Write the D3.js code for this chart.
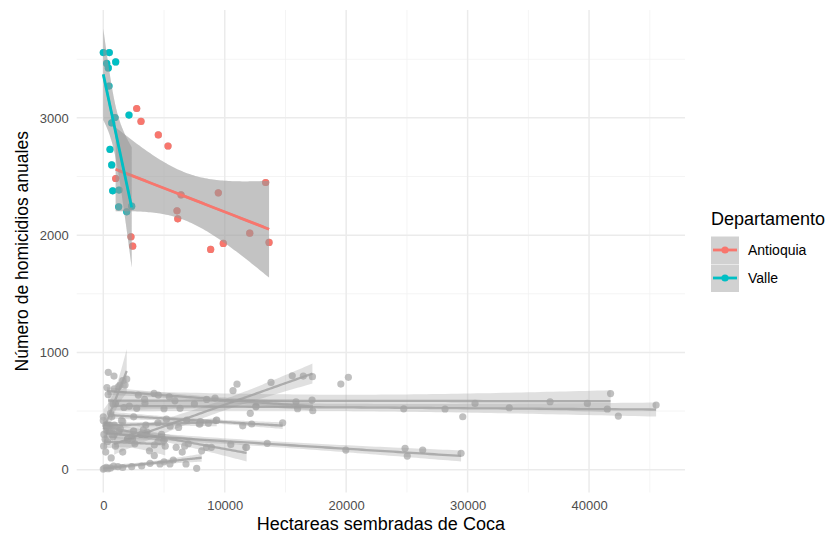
<!DOCTYPE html>
<html>
<head>
<meta charset="utf-8">
<script src="https://cdnjs.cloudflare.com/ajax/libs/d3/7.8.5/d3.min.js"></script>
<style>
  body { margin: 0; background: #fff; }
  text { font-family: "Liberation Sans", Arial, Helvetica, sans-serif; }
</style>
</head>
<body>
<div id="wrapper"></div>
<script>
// Highlighted departamentos
var antioquiaX = [1020, 2280, 2420, 2750, 3105, 4530, 5330, 6070, 6130, 6400, 8840, 9470, 9880, 12060, 13370, 13650];
var antioquiaY = [2483, 1986, 1906, 3080, 2970, 2855, 2760, 2207, 2139, 2344, 1878, 2361, 1929, 2017, 2449, 1938];
var valleX = [0, 494, 1021, 280, 412, 470, 2116, 964, 692, 552, 692, 774, 1293, 1268, 1927, 2339];
var valleY = [3557, 3557, 3477, 3464, 3426, 3271, 3024, 3003, 2957, 2731, 2599, 2378, 2384, 2241, 2199, 2247];

// the other departamentos (drawn grey), [hectareas, homicidios]
var otro1 = [[400,640],[2140,542],[2750,523],[3430,565],[6320,523],[9200,610],[19560,730],[20180,787],[24740,519],[28140,517],[33430,528],[39860,565],[41500,517],[41770,649]];
var otro2 = [[800,560],[1700,530],[3400,600],[5000,520],[7500,560],[12100,480],[16000,520],[29600,451],[30610,565],[36790,579],[42410,457],[45520,551]];
var otro3 = [[900,300],[2000,260],[3300,340],[4800,300],[6200,360],[7900,390],[9300,420],[10680,673],[11010,729],[12570,536],[13810,744],[15560,800],[16470,798],[17220,793]];
var otro4 = [[300,700],[900,690],[2880,636],[4180,650],[4530,636],[5430,621],[5900,587],[8510,599],[12570,542],[15870,579],[17190,593],[17250,502]];
var otro5 = [[200,380],[700,300],[1400,350],[2300,280],[3600,320],[5000,250],[6700,200],[8900,190],[11730,190],[13500,224],[19970,167],[24850,182],[25030,116],[26300,167],[29460,139]];
var otro6 = [[0,5],[100,12],[250,20],[400,8],[600,15],[850,30],[1200,25],[1600,18],[2340,25],[3160,31],[3850,54],[4200,120],[4670,48],[5000,67],[5490,48],[5760,82],[6500,150],[6810,48],[7690,11],[8100,160]];
var otro7 = [[30,200],[150,260],[300,330],[410,830],[500,380],[700,450],[880,798],[1000,560],[1235,707],[1375,721],[1600,760],[1790,721],[1930,772]];
var otro8 = [[0,420],[400,350],[900,380],[1600,410],[2500,330],[3500,380],[4500,400],[5500,370],[6870,423],[7960,390],[8650,395],[9340,423]];
var otro9 = [[0,450],[300,380],[700,320],[1500,420],[2400,260],[3500,300],[4200,210],[5000,250],[6000,190],[7000,220],[8500,190],[10500,215],[11800,190]];
var otro10 = [[50,300],[200,150],[350,240],[500,330],[650,100],[800,280],[1000,200],[1300,330],[1600,150],[2000,260],[2600,220],[3100,300],[3800,160],[4500,240],[5100,200]];
var otro11 = [[600,480],[2500,450],[5200,430],[8000,410],[11480,374],[12220,389],[14770,400]];

var xTicks = [0, 10000, 20000, 30000, 40000];
var xMinor = [5000, 15000, 25000, 35000, 45000];
var yTicks = [0, 1000, 2000, 3000];
var yMinor = [500, 1500, 2500, 3500];
var legendNames = ["Antioquia", "Valle"];
var legendColors = ["#F8766D", "#00BFC4"];

var width = 827, height = 535;
var panel = {left: 76.7, right: 685, top: 10, bottom: 492.5};

var x = d3.scaleLinear().domain([-2190, 47900]).range([panel.left, panel.right]);
var y = d3.scaleLinear().domain([-195, 3920]).range([panel.bottom, panel.top]);

var svg = d3.select("#wrapper").append("svg")
    .attr("width", width)
    .attr("height", height);

// grid (theme_minimal)
var grid = svg.append("g");
grid.selectAll(".xminor").data(xMinor).enter().append("line")
    .attr("x1", d => x(d)).attr("x2", d => x(d))
    .attr("y1", panel.top).attr("y2", panel.bottom)
    .attr("stroke", "#f1f1f1").attr("stroke-width", 0.8);
grid.selectAll(".yminor").data(yMinor).enter().append("line")
    .attr("y1", d => y(d)).attr("y2", d => y(d))
    .attr("x1", panel.left).attr("x2", panel.right)
    .attr("stroke", "#f1f1f1").attr("stroke-width", 0.8);
grid.selectAll(".xmajor").data(xTicks).enter().append("line")
    .attr("x1", d => x(d)).attr("x2", d => x(d))
    .attr("y1", panel.top).attr("y2", panel.bottom)
    .attr("stroke", "#ebebeb").attr("stroke-width", 1.5);
grid.selectAll(".ymajor").data(yTicks).enter().append("line")
    .attr("y1", d => y(d)).attr("y2", d => y(d))
    .attr("x1", panel.left).attr("x2", panel.right)
    .attr("stroke", "#ebebeb").attr("stroke-width", 1.5);

// build groups
function pairs(xs, ys) { return xs.map((v, i) => [v, ys[i]]); }
var antioquia = pairs(antioquiaX, antioquiaY);
var valle = pairs(valleX, valleY);
var otros = [otro1, otro2, otro3, otro4, otro5, otro6, otro7, otro8, otro9, otro10, otro11];
var all = otros.concat([antioquia, valle]);

// t quantile 0.975 (Cornish-Fisher expansion)
function tq(df) {
  var z = 1.959964;
  return z + (z*z*z + z) / (4*df)
    + (5*Math.pow(z,5) + 16*z*z*z + 3*z) / (96*df*df)
    + (3*Math.pow(z,7) + 19*Math.pow(z,5) + 17*z*z*z - 15*z) / (384*Math.pow(df,3));
}

// lm fit + 95% ribbon, like geom_smooth(method = "lm")
function smooth(pts) {
  var n = pts.length;
  var mx = d3.mean(pts, d => d[0]), my = d3.mean(pts, d => d[1]);
  var sxx = d3.sum(pts, d => (d[0]-mx)*(d[0]-mx));
  var sxy = d3.sum(pts, d => (d[0]-mx)*(d[1]-my));
  var b = sxy / sxx, a = my - b*mx;
  var sse = d3.sum(pts, d => Math.pow(d[1] - a - b*d[0], 2));
  var s = Math.sqrt(sse / (n-2));
  var t = tq(n-2);
  var lo = d3.min(pts, d => d[0]), hi = d3.max(pts, d => d[0]);
  var out = [];
  for (var i = 0; i < 80; i++) {
    var xv = lo + (hi-lo)*i/79;
    var fit = a + b*xv;
    var se = s * Math.sqrt(1/n + (xv-mx)*(xv-mx)/sxx);
    out.push({x: xv, y: fit, lo: fit - t*se, hi: fit + t*se});
  }
  return out;
}

var area = d3.area().x(d => x(d.x)).y0(d => y(d.lo)).y1(d => y(d.hi));
var line = d3.line().x(d => x(d.x)).y(d => y(d.y));

var plot = svg.append("g");

// grey layer points (all groups)
all.forEach(function(g) {
  plot.append("g").selectAll("circle").data(g).enter().append("circle")
      .attr("cx", d => x(d[0])).attr("cy", d => y(d[1]))
      .attr("r", 3.6)
      .attr("fill", "#b0b0b0").attr("fill-opacity", 0.8);
});

// highlighted points
[antioquia, valle].forEach(function(g, i) {
  plot.append("g").selectAll("circle").data(g).enter().append("circle")
      .attr("cx", d => x(d[0])).attr("cy", d => y(d[1]))
      .attr("r", 3.6)
      .attr("fill", legendColors[i]);
});

// grey smooths
all.forEach(function(g) {
  var sm = smooth(g);
  plot.append("path").datum(sm).attr("d", area)
      .attr("fill", "#999999").attr("fill-opacity", 0.3);
  plot.append("path").datum(sm).attr("d", line)
      .attr("fill", "none").attr("stroke", "#a3a3a3").attr("stroke-opacity", 0.85)
      .attr("stroke-width", 2.3);
});

// highlighted smooths
[antioquia, valle].forEach(function(g, i) {
  var sm = smooth(g);
  plot.append("path").datum(sm).attr("d", area)
      .attr("fill", "#999999").attr("fill-opacity", 0.4);
  plot.append("path").datum(sm).attr("d", line)
      .attr("fill", "none").attr("stroke", legendColors[i])
      .attr("stroke-width", 2.8);
});

// axes (labels only)
var xAxis = svg.append("g")
    .attr("transform", "translate(0," + panel.bottom + ")")
    .call(d3.axisBottom(x).tickValues(xTicks).tickSize(0).tickPadding(8).tickFormat(d3.format("d")));
var yAxis = svg.append("g")
    .attr("transform", "translate(" + (panel.left - 4) + ",0)")
    .call(d3.axisLeft(y).tickValues(yTicks).tickSize(0).tickPadding(4).tickFormat(d3.format("d")));
[xAxis, yAxis].forEach(function(ax) {
  ax.select(".domain").remove();
  ax.selectAll("text").attr("fill", "#4d4d4d").style("font-size", "13px")
    .style("font-family", "'Liberation Sans', Arial, sans-serif");
});

// axis titles
svg.append("text")
    .attr("x", (panel.left + panel.right) / 2)
    .attr("y", 530)
    .attr("text-anchor", "middle")
    .style("font-size", "18px")
    .text("Hectareas sembradas de Coca");
svg.append("text")
    .attr("transform", "translate(28," + ((panel.top + panel.bottom) / 2) + ") rotate(-90)")
    .attr("text-anchor", "middle")
    .style("font-size", "17.5px")
    .text("Número de homicidios anuales");

// legend
var legend = svg.append("g").attr("transform", "translate(711,0)");
legend.append("text")
    .attr("x", 0).attr("y", 225)
    .style("font-size", "18px")
    .text("Departamento");
legendNames.forEach(function(name, i) {
  var cy = 250 + i * 28;
  legend.append("rect")
      .attr("x", 0).attr("y", cy - 13.5).attr("width", 28).attr("height", 27.5)
      .attr("fill", "#999999").attr("fill-opacity", 0.45);
  legend.append("line")
      .attr("x1", 2).attr("x2", 26).attr("y1", cy).attr("y2", cy)
      .attr("stroke", legendColors[i]).attr("stroke-width", 2.8);
  legend.append("circle")
      .attr("cx", 14).attr("cy", cy).attr("r", 3.6)
      .attr("fill", legendColors[i]);
  legend.append("text")
      .attr("x", 37).attr("y", cy + 5)
      .style("font-size", "14px")
      .text(name);
});
</script>
</body>
</html>
